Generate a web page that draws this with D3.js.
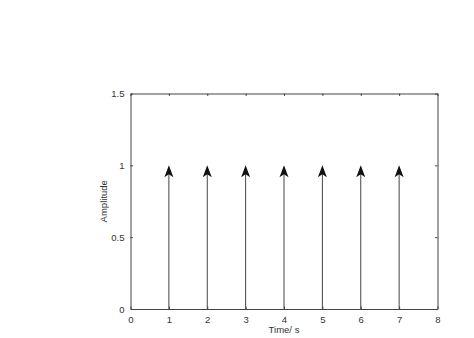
<!DOCTYPE html>
<html>
<head>
<meta charset="utf-8">
<script src="https://cdn.jsdelivr.net/npm/d3@7"></script>
<style>
  body { margin: 0; background: #fff; }
  svg { display: block; font-family: "Liberation Sans", Arial, sans-serif; }
</style>
</head>
<body>
<div id="chart"></div>
<script>
// impulse train data
var impulseTimes = [1, 2, 3, 4, 5, 6, 7];
var impulseAmps = [1, 1, 1, 1, 1, 1, 1];
var xTicks = [0, 1, 2, 3, 4, 5, 6, 7, 8];
var yTicks = [0, 0.5, 1, 1.5];

var width = 474, height = 338;
var margin = {top: 93.5, right: 36.5, bottom: 29, left: 130.5};

var svg = d3.select('#chart').append('svg')
	.attr('width', width)
	.attr('height', height);

var x = d3.scaleLinear()
	.domain([0, 8])
	.range([margin.left, width - margin.right]);

var y = d3.scaleLinear()
	.domain([0, 1.5])
	.range([height - margin.bottom, margin.top]);

var textColor = '#333';
var lineColor = '#444';

// arrow head marker
svg.append('defs').append('marker')
	.attr('id', 'arrow')
	.attr('viewBox', '0 0 10 12')
	.attr('refX', 5)
	.attr('refY', 0)
	.attr('markerWidth', 9)
	.attr('markerHeight', 12)
	.attr('markerUnits', 'userSpaceOnUse')
	.attr('orient', 'auto-start-reverse')
	.append('path')
	.attr('d', 'M5,0 L10,12 L5,9 L0,12 Z')
	.attr('fill', '#111');

// inward ticks on all sides
var xAxis = g => g
	.attr('transform', `translate(0,${y(0)})`)
	.call(d3.axisBottom(x).tickValues(xTicks).tickSizeInner(-2.5).tickSizeOuter(0).tickPadding(7));

var xAxisTop = g => g
	.attr('transform', `translate(0,${y(1.5)})`)
	.call(d3.axisTop(x).tickValues(xTicks).tickSizeInner(-2.5).tickSizeOuter(0).tickFormat(''));

var yAxis = g => g
	.attr('transform', `translate(${x(0)},0)`)
	.call(d3.axisLeft(y).tickValues(yTicks).tickSizeInner(-2.5).tickSizeOuter(0).tickPadding(6).tickFormat(d3.format('')));

var yAxisRight = g => g
	.attr('transform', `translate(${x(8)},0)`)
	.call(d3.axisRight(y).tickValues(yTicks).tickSizeInner(-2.5).tickSizeOuter(0).tickFormat(''));

[xAxis, xAxisTop, yAxis, yAxisRight].forEach(function(a) {
	var g = svg.append('g').call(a);
	g.select('.domain').attr('stroke', lineColor).attr('stroke-width', 1);
	g.selectAll('.tick line').attr('stroke', lineColor);
	g.selectAll('.tick text').attr('fill', textColor).style('font-size', '9.5px');
});

// impulses
svg.append('g')
	.selectAll('line')
	.data(impulseTimes)
	.join('line')
	.attr('x1', d => x(d))
	.attr('x2', d => x(d))
	.attr('y1', y(0))
	.attr('y2', (d, i) => y(impulseAmps[i]) + 2)
	.attr('stroke', lineColor)
	.attr('stroke-width', 1);

svg.append('g')
	.selectAll('path')
	.data(impulseTimes)
	.join('path')
	.attr('d', (d, i) => `M${x(d)},${y(impulseAmps[i])} L${x(d) + 4.5},${y(impulseAmps[i]) + 12} L${x(d)},${y(impulseAmps[i]) + 9} L${x(d) - 4.5},${y(impulseAmps[i]) + 12} Z`)
	.attr('fill', '#111');

// axis labels
svg.append('text')
	.attr('x', (x(0) + x(8)) / 2)
	.attr('y', 333)
	.attr('text-anchor', 'middle')
	.attr('fill', textColor)
	.style('font-size', '9.5px')
	.text('Time/ s');

svg.append('text')
	.attr('transform', `translate(107,${(y(0) + y(1.5)) / 2}) rotate(-90)`)
	.attr('text-anchor', 'middle')
	.attr('fill', textColor)
	.style('font-size', '9.5px')
	.text('Amplitude');
</script>
</body>
</html>
